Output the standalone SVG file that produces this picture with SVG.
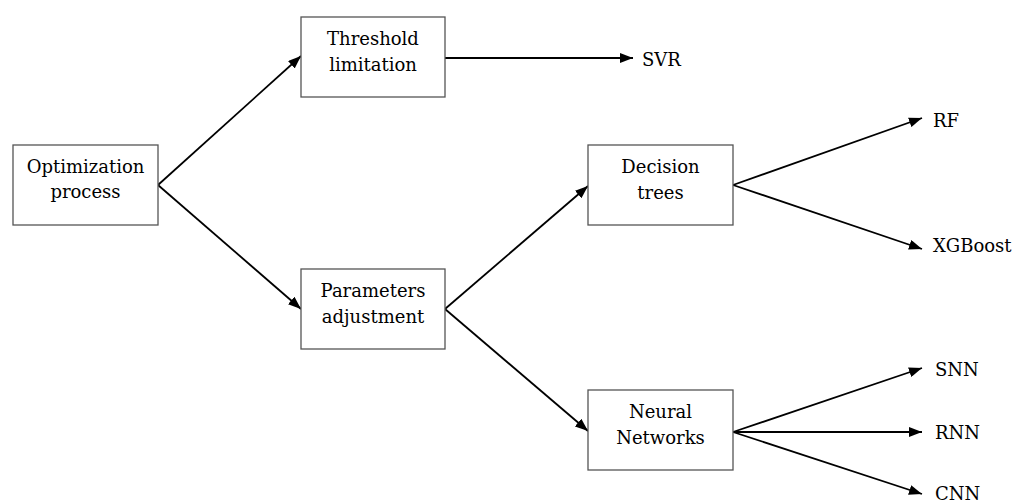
<svg xmlns="http://www.w3.org/2000/svg" width="1015" height="502" viewBox="0 0 1015 502">
<style>
.box{fill:#fff;stroke:#555;stroke-width:1.3}
.t{font-family:"DejaVu Serif","Liberation Serif",serif;font-size:18px;fill:#000}
.c{text-anchor:middle}
.edge{stroke:#000;stroke-width:1.8;fill:none;marker-end:url(#ah)}
</style>
<defs>
<marker id="ah" markerUnits="userSpaceOnUse" markerWidth="14" markerHeight="10" refX="13" refY="5" orient="auto">
<path d="M0,0 L13,5 L0,10 Z" fill="#000"/>
</marker>
</defs>
<rect width="1015" height="502" fill="#fff"/>
<g id="connectors">
<line class="edge" x1="158" y1="185" x2="301" y2="56"/>
<line class="edge" x1="158" y1="185" x2="301" y2="309"/>
<line class="edge" x1="445" y1="58" x2="633" y2="58"/>
<line class="edge" x1="445" y1="309" x2="588" y2="186"/>
<line class="edge" x1="445" y1="309" x2="588" y2="431"/>
<line class="edge" x1="733" y1="185" x2="922" y2="118"/>
<line class="edge" x1="733" y1="185" x2="922" y2="249"/>
<line class="edge" x1="733" y1="432" x2="922" y2="368"/>
<line class="edge" x1="733" y1="432" x2="922" y2="432"/>
<line class="edge" x1="733" y1="432" x2="922" y2="494"/>
</g>
<g id="optimization">
<rect class="box" x="13" y="145" width="145" height="80"/>
<text class="t c" x="85.5" y="173">Optimization</text>
<text class="t c" x="85.5" y="198">process</text>
</g>
<g id="threshold">
<rect class="box" x="301" y="17" width="144" height="80"/>
<text class="t c" x="373" y="45">Threshold</text>
<text class="t c" x="373" y="71">limitation</text>
</g>
<g id="parameters">
<rect class="box" x="301" y="269" width="144" height="80"/>
<text class="t c" x="373" y="297">Parameters</text>
<text class="t c" x="373" y="323">adjustment</text>
</g>
<g id="decision">
<rect class="box" x="588" y="145" width="145" height="80"/>
<text class="t c" x="660.5" y="173">Decision</text>
<text class="t c" x="660.5" y="199">trees</text>
</g>
<g id="neural">
<rect class="box" x="588" y="390" width="145" height="80"/>
<text class="t c" x="660.5" y="418">Neural</text>
<text class="t c" x="660.5" y="444">Networks</text>
</g>
<g id="svr"><text class="t" x="642" y="66">SVR</text></g>
<g id="rf"><text class="t" x="933" y="127">RF</text></g>
<g id="xgboost"><text class="t" x="933" y="252">XGBoost</text></g>
<g id="snn"><text class="t" x="935" y="376">SNN</text></g>
<g id="rnn"><text class="t" x="935" y="439">RNN</text></g>
<g id="cnn"><text class="t" x="935" y="500">CNN</text></g>
</svg>
